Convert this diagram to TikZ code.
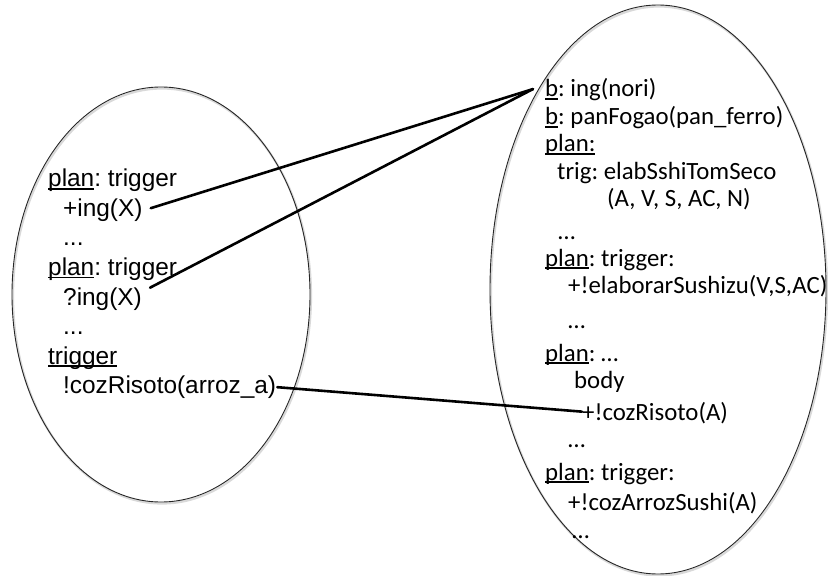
\documentclass[tikz,border=0pt]{standalone}
\usepackage{fontspec}
\usetikzlibrary{shapes.geometric}
\newfontfamily\arialish{Liberation Sans}
\newfontfamily\calib{Carlito}
% underline that sits just under the baseline and crosses descenders
\newsavebox\ulbox
\newcommand\ulw[1]{\sbox\ulbox{#1}\rlap{\rule[-0.11em]{\wd\ulbox}{0.055em}}\usebox\ulbox}
\begin{document}
\frenchspacing
\begin{tikzpicture}[x=1bp,y=-1bp,
  lefttxt/.style={anchor=base west, inner sep=0pt,
    font=\arialish\fontsize{24.4bp}{29bp}\selectfont},
  righttxt/.style={anchor=base west, inner sep=0pt,
    font=\calib\fontsize{24.8bp}{29bp}\selectfont},
  bubble/.style={ellipse, draw=black!85, line width=0.9bp, inner sep=0pt},
  bubbleshade/.style={ellipse, draw=black!15, line width=2.2bp, inner sep=0pt},
  link/.style={line width=2.6bp, line cap=round}]
\useasboundingbox (0,0) rectangle (828,576);

% soft shading under the two agents
\node[bubbleshade, minimum width=298bp, minimum height=415bp] (shA) at (162,296) {};
\node[bubbleshade, minimum width=336bp, minimum height=569bp] (shB) at (659,291) {};
% the two agents
\node[bubble, minimum width=298bp, minimum height=415bp] (agentA) at (161,294.5) {};
\node[bubble, minimum width=336bp, minimum height=569bp] (agentB) at (658,289.5) {};

% plans of the first agent
\node[lefttxt] (pA1) at (48,187)   {\ulw{plan}: trigger};
\node[lefttxt] (ingA) at (63,216.5) {+ing(X)};
\node[lefttxt] (dA1) at (63,246)   {...};
\node[lefttxt] (pA2) at (48,275.5) {\ulw{plan}: trigger};
\node[lefttxt] (ingB) at (63,305)   {?ing(X)};
\node[lefttxt] (dA2) at (63,334.5) {...};
\node[lefttxt] (pA3) at (48,364)   {\ulw{trigger}};
\node[lefttxt] (rsA) at (63,393.5) {!cozRisoto(arroz\_a)};

% beliefs and plans of the second agent
\node[righttxt] (bnori) at (545,97)  {\ulw{b}: ing(nori)};
\node[righttxt] (bpan)  at (545,125) {\ulw{b}: panFogao(pan\_ferro)};
\node[righttxt] (pB1)   at (545,152) {\ulw{plan:}};
\node[righttxt] (trig)  at (557,180) {trig: elabSshiTomSeco};
\node[righttxt] (targs) at (607,207) {(A, V, S, AC, N)};
\node[righttxt] (dB1)   at (558,240) {…};
\node[righttxt] (pB2)   at (545,266) {\ulw{plan}: trigger:};
\node[righttxt] (elab)  at (568,293) {+!elaborarSushizu(V,S,AC)};
\node[righttxt] (dB2)   at (568,328) {…};
\node[righttxt] (pB3)   at (545,361) {\ulw{plan}: …};
\node[righttxt] (body)  at (574,388) {body};
\node[righttxt] (rsB)   at (582,420) {+!cozRisoto(A)};
\node[righttxt] (dB3)   at (568,447) {…};
\node[righttxt] (pB4)   at (545,480) {\ulw{plan}: trigger:};
\node[righttxt] (arz)   at (568,510) {+!cozArrozSushi(A)};
\node[righttxt] (dB4)   at (572,538) {…};

% connections between the agents
\coordinate (hub) at ([xshift=-12bp,yshift=1bp]bnori.west);
\draw[link] (hub) -- ([xshift=8bp,yshift=2bp]ingA.east);
\draw[link] (hub) -- ([xshift=8bp,yshift=11bp]ingB.east);
\draw[link] ([xshift=1bp]rsA.east) -- ([yshift=1bp]rsB.west);
\end{tikzpicture}
\end{document}
